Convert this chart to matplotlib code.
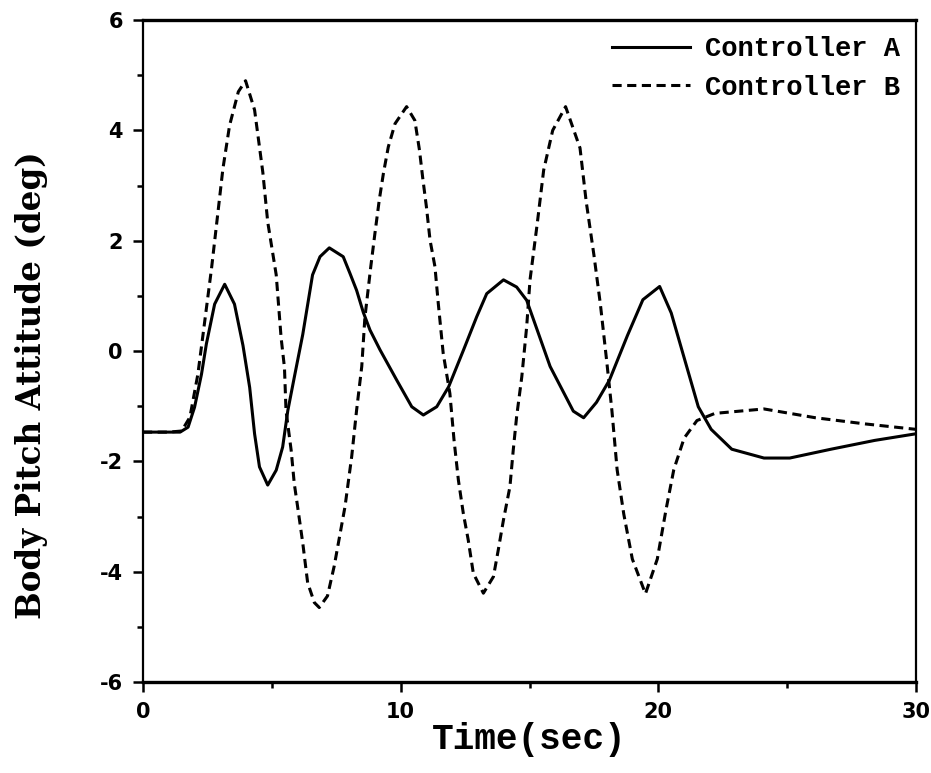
import numpy as np
import matplotlib
matplotlib.use('Agg')
import matplotlib.pyplot as plt
from matplotlib.ticker import MultipleLocator

plt.rcParams['axes.unicode_minus'] = False

# Controller A (solid) - time (s), pitch (deg)
t_a = [0, 1.0, 1.44, 1.75, 2.0, 2.27, 2.46, 2.78, 3.17, 3.55, 3.88, 4.14, 4.33,
       4.52, 4.84, 5.17, 5.42, 5.62, 5.87, 6.2, 6.58, 6.87, 7.23, 7.77, 8.03,
       8.29, 8.55, 8.81, 9.2, 9.85, 10.43, 10.88, 11.4, 11.86, 12.44, 12.95,
       13.34, 13.99, 14.5, 14.89, 15.8, 16.7, 17.1, 17.6, 18.1, 18.8, 19.4,
       20.05, 20.5, 21.0, 21.55, 22.05, 22.85, 24.1, 25.1, 26.7, 28.4, 30.0]
pitch_a = [-1.47, -1.47, -1.47, -1.38, -1.02, -0.42, 0.13, 0.85, 1.21, 0.85, 0.1,
           -0.66, -1.5, -2.1, -2.43, -2.16, -1.74, -1.08, -0.48, 0.3, 1.38, 1.71,
           1.87, 1.71, 1.41, 1.1, 0.7, 0.38, 0.02, -0.53, -1.01, -1.16, -1.01,
           -0.65, 0.02, 0.62, 1.04, 1.29, 1.16, 0.92, -0.28, -1.09, -1.21, -0.93,
           -0.53, 0.28, 0.93, 1.17, 0.69, -0.12, -1.01, -1.42, -1.78, -1.94, -1.94,
           -1.78, -1.62, -1.5]

# Controller B (dashed)
t_b = [0, 1.0, 1.5, 1.82, 2.13, 2.33, 2.66, 2.91, 3.1, 3.36, 3.7, 3.98, 4.33,
       4.65, 4.84, 5.17, 5.36, 5.49, 5.55, 5.75, 5.87, 6.0, 6.2, 6.39, 6.65,
       6.84, 7.16, 7.42, 7.84, 8.1, 8.29, 8.49, 8.61, 8.84, 9.0, 9.17, 9.33,
       9.52, 9.78, 10.23, 10.55, 10.73, 10.85, 11.0, 11.14, 11.33, 11.46, 11.65,
       11.91, 12.07, 12.24, 12.43, 12.62, 12.82, 13.21, 13.6, 13.79, 13.99,
       14.24, 14.37, 14.5, 14.7, 14.89, 15.02, 15.3, 15.55, 15.9, 16.4, 16.96,
       17.2, 17.5, 17.75, 18.0, 18.2, 18.4, 18.66, 18.99, 19.5, 19.96, 20.3,
       20.6, 21.0, 21.5, 22.2, 24.1, 26.1, 28.0, 30.0]
pitch_b = [-1.47, -1.47, -1.45, -1.2, -0.42, 0.3, 1.5, 2.52, 3.3, 4.09, 4.7, 4.9,
           4.37, 3.24, 2.34, 1.38, 0.24, -0.3, -1.08, -1.8, -2.4, -2.82, -3.48,
           -4.2, -4.56, -4.65, -4.44, -3.9, -2.82, -1.91, -1.07, -0.28, 0.6, 1.53,
           2.13, 2.74, 3.22, 3.7, 4.12, 4.43, 4.18, 3.64, 3.16, 2.61, 2.01, 1.53,
           0.86, -0.04, -0.77, -1.61, -2.34, -2.94, -3.42, -4.03, -4.39, -4.09,
           -3.6, -3.06, -2.46, -1.79, -1.19, -0.47, 0.44, 1.29, 2.31, 3.28, 4.0,
           4.43, 3.68, 2.71, 1.74, 0.85, -0.2, -1.09, -2.15, -2.96, -3.77, -4.4,
           -3.77, -2.87, -2.15, -1.58, -1.26, -1.13, -1.05, -1.21, -1.32, -1.42]

fig = plt.figure(figsize=(9.31, 7.73), dpi=100)
ax = fig.add_axes([0.1536, 0.1177, 0.8303, 0.8564])

ax.plot(t_a, pitch_a, color='black', lw=2.2, label='Controller A')
ax.plot(t_b, pitch_b, color='black', lw=2.2, linestyle=(0, (3, 1.8)),
        label='Controller B')

ax.set_xlim(0, 30)
ax.set_ylim(-6, 6)
ax.xaxis.set_major_locator(MultipleLocator(10))
ax.xaxis.set_minor_locator(MultipleLocator(5))
ax.yaxis.set_major_locator(MultipleLocator(2))
ax.yaxis.set_minor_locator(MultipleLocator(1))
ax.tick_params(which='major', direction='out', length=7.5, width=1.8,
               labelsize=15, pad=7)
ax.tick_params(which='minor', direction='out', length=4.5, width=1.8)
for lbl in ax.get_xticklabels() + ax.get_yticklabels():
    lbl.set_fontweight('bold')
for sp in ax.spines.values():
    sp.set_linewidth(1.6)
ax.spines['bottom'].set_linewidth(2.4)
ax.spines['top'].set_linewidth(2.4)

ax.set_xlabel('Time(sec)', fontsize=26, family='Liberation Mono',
              fontweight='bold', labelpad=0)
ax.set_ylabel('Body Pitch Attitude (deg)', fontsize=23.5, family='DejaVu Serif',
              fontweight='bold')
ax.yaxis.set_label_coords(-0.123, 0.449)

leg = ax.legend(loc='upper right', frameon=False, handlelength=2.9,
                prop={'family': 'Liberation Mono', 'weight': 'bold', 'size': 19.5},
                borderaxespad=0.44, labelspacing=0.47, handletextpad=0.55,
                borderpad=0.15)

fig.savefig('out.png', dpi=100)
